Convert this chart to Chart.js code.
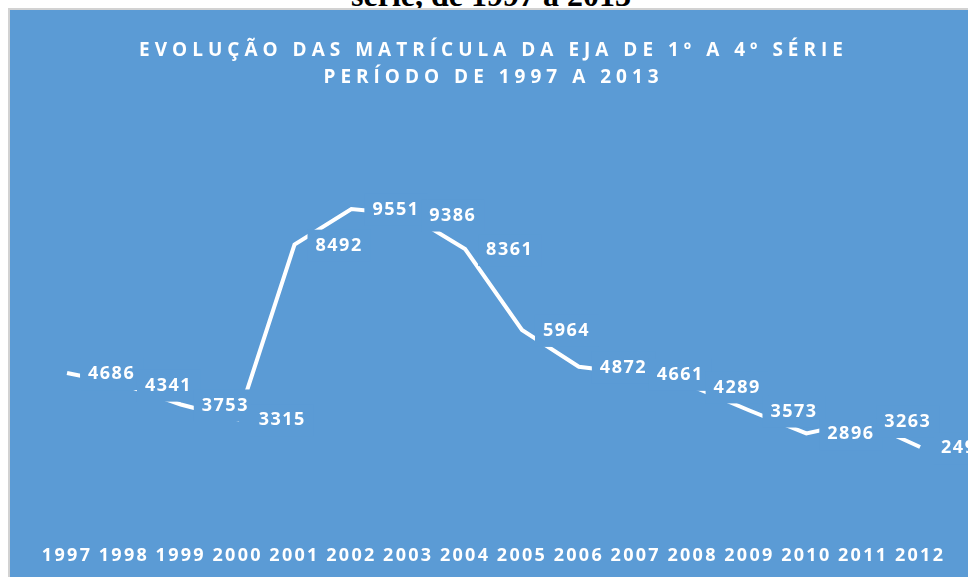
<!DOCTYPE html>
<html lang="pt">
<head>
<meta charset="utf-8">
<title>Evolução das matrículas da EJA</title>
<script src="https://cdn.jsdelivr.net/npm/chart.js@4.4.1/dist/chart.umd.min.js"></script>
<style>
    html, body { margin: 0; padding: 0; background: #fff; overflow: hidden; }
    body { width: 968px; height: 577px; position: relative; }
    .caption {
        position: absolute; left: 0; width: 982px; top: -20px;
        text-align: center; font: bold 32px 'Liberation Serif', serif; line-height: 30px; color: #000;
        white-space: nowrap;
    }
    .frame {
        position: absolute; left: 8px; top: 8px; width: 960px; height: 569px;
        border-left: 2px solid #d2d2d2; border-top: 2px solid #d2d2d2; box-sizing: border-box;
    }
    .chart-box {
        position: absolute; left: 10px; top: 10px; width: 958px; height: 567px;
        background: #5b9bd5;
    }
</style>
</head>
<body>
<div class="caption">série, de 1997 a 2013</div>
<div class="frame"></div>
<div class="chart-box"><canvas id="ejaChart"></canvas></div>
<script>
// --- dados ---
const years = ['1997', '1998', '1999', '2000', '2001', '2002', '2003', '2004',
               '2005', '2006', '2007', '2008', '2009', '2010', '2011', '2012'];
const enrollments = [4686, 4341, 3753, 3315, 8492, 9551, 9386, 8361,
                     5964, 4872, 4661, 4289, 3573, 2896, 3263, 2490];
const titleLines = ['EVOLUÇÃO DAS MATRÍCULA DA EJA DE 1º A 4º SÉRIE', 'PERÍODO DE 1997 A 2013'];

const BG = '#5b9bd5';
const TEXT_FONT = { family: "'Open Sans', sans-serif", size: 18, weight: 'bold' };
const TICK_SPACING = '2.3px';
const LABEL_SPACING = '1.5px';
const TITLE_SPACING = '5px';

// espaçamento entre letras (título mais espaçado que o resto)
const spacingPlugin = {
    id: 'spacing',
    beforeDraw(chart) {
        const tb = chart.titleBlock;
        if (tb && !tb._spaced) {
            const draw = tb.draw;
            tb.draw = function (area) {
                chart.ctx.save();
                chart.ctx.letterSpacing = TITLE_SPACING;
                draw.call(this, area);
                chart.ctx.restore();
            };
            tb._spaced = true;
        }
        chart.ctx.letterSpacing = TICK_SPACING;
    },
    afterDraw(chart) {
        chart.ctx.letterSpacing = '0px';
    }
};

// rótulos à direita do ponto, com fundo azul por cima da linha
const valueLabels = {
    id: 'valueLabels',
    afterDatasetsDraw(chart) {
        const ctx = chart.ctx;
        const meta = chart.getDatasetMeta(0);
        ctx.save();
        ctx.letterSpacing = LABEL_SPACING;
        ctx.font = `${TEXT_FONT.weight} ${TEXT_FONT.size}px ${TEXT_FONT.family}`;
        ctx.textAlign = 'left';
        ctx.textBaseline = 'middle';
        const items = meta.data.map((pt, i) => {
            const text = String(enrollments[i]);
            return { x: pt.x, y: pt.y + 1, text, w: ctx.measureText(text).width };
        });
        ctx.fillStyle = BG;
        items.forEach(it => ctx.fillRect(it.x + 13, it.y - 16, it.w + 16, 32));
        ctx.fillStyle = '#ffffff';
        items.forEach(it => ctx.fillText(it.text, it.x + 21, it.y));
        ctx.restore();
    }
};

const ctx = document.getElementById('ejaChart').getContext('2d');
new Chart(ctx, {
    type: 'line',
    data: {
        labels: years,
        datasets: [{
            label: 'Matrículas',
            data: enrollments,
            borderColor: '#ffffff',
            borderWidth: 4,
            pointRadius: 0,
            tension: 0,
            fill: false
        }]
    },
    options: {
        responsive: true,
        maintainAspectRatio: false,
        animation: false,
        layout: { padding: { top: 0, left: 28.6, right: 19.5, bottom: 0 } },
        scales: {
            x: {
                offset: true,
                grid: { display: false, drawTicks: false },
                border: { display: false },
                ticks: { color: '#ffffff', font: TEXT_FONT, padding: 13.7, maxRotation: 0, autoSkip: false },
                afterFit: (scale) => { scale.height = 46; }
            },
            y: {
                display: false,
                min: 0,
                max: 12000
            }
        },
        plugins: {
            legend: { display: false },
            tooltip: { enabled: false },
            title: {
                display: true,
                text: titleLines,
                color: '#ffffff',
                font: { family: "'Open Sans', sans-serif", size: 19, weight: 'bold', lineHeight: 27 / 19 },
                padding: { top: 27, bottom: 35.4 }
            }
        }
    },
    plugins: [spacingPlugin, valueLabels]
});
</script>
</body>
</html>
